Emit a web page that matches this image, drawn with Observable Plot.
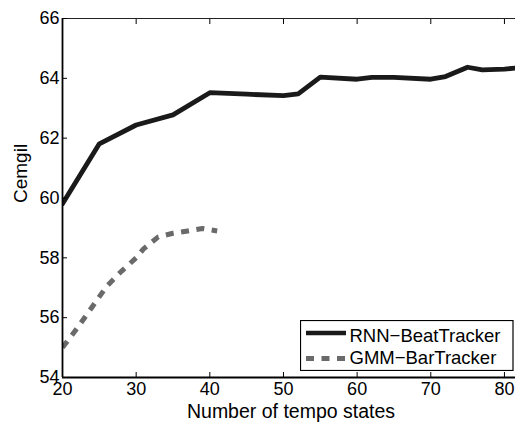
<!DOCTYPE html>
<html>
<head>
<meta charset="utf-8">
<script src="https://cdn.jsdelivr.net/npm/d3@7"></script>
<script src="https://cdn.jsdelivr.net/npm/@observablehq/plot@0.6"></script>
<style>
  html, body { margin: 0; padding: 0; background: white; }
  #wrap { position: relative; width: 515px; height: 423px; }
  #legend { position: absolute; left: 300px; top: 320px; }
</style>
</head>
<body>
<div id="wrap"></div>
<script>
// ---- data ----
const rnnStates = [20, 25, 30, 35, 40, 45, 50, 52, 55, 60, 62, 65, 70, 72, 75, 77, 80, 82];
const rnnCemgil = [59.81, 61.81, 62.44, 62.78, 63.52, 63.47, 63.42, 63.48, 64.04, 63.97, 64.03, 64.03, 63.97, 64.06, 64.37, 64.28, 64.31, 64.35];
const gmmStates = [20, 22, 24, 26, 28, 30, 31, 33, 35, 37, 39, 41];
const gmmCemgil = [55.0, 55.65, 56.35, 57.05, 57.55, 58.0, 58.3, 58.7, 58.82, 58.9, 58.98, 58.9];
const xTicks = [20, 30, 40, 50, 60, 70, 80];
const yTicks = [54, 56, 58, 60, 62, 64, 66];
const seriesNames = ["RNN\u2212BeatTracker", "GMM\u2212BarTracker"];
const xLabel = "Number of tempo states";
const yLabel = "Cemgil";

const rnn = rnnStates.map((x, i) => ({x, y: rnnCemgil[i]}));
const gmm = gmmStates.map((x, i) => ({x, y: gmmCemgil[i]}));

const rnnColor = "#1a1a1a";
const gmmColor = "#6a6a6a";
const font = "'Liberation Sans', Arial, Helvetica, sans-serif";

const chart = Plot.plot({
  width: 515,
  height: 423,
  marginLeft: 62,
  marginRight: 0,
  marginTop: 18,
  marginBottom: 46,
  style: {fontFamily: font, fontSize: "18px", color: "black", background: "white"},
  x: {domain: [20, 81.5]},
  y: {domain: [54, 66]},
  marks: [
    Plot.line(gmm, {x: "x", y: "y", stroke: gmmColor, strokeWidth: 5, strokeDasharray: "8,7.5", strokeLinecap: "butt", clip: true}),
    Plot.line(rnn, {x: "x", y: "y", stroke: rnnColor, strokeWidth: 4.8, strokeLinejoin: "round", clip: true}),
    Plot.ruleY([yTicks[0]], {stroke: "black", strokeWidth: 1.8}),
    Plot.ruleY([yTicks[yTicks.length - 1]], {stroke: "#222", strokeWidth: 1.2}),
    Plot.ruleX([xTicks[0]], {stroke: "black", strokeWidth: 1.8}),
    Plot.axisX({ticks: xTicks, tickSize: -5, tickPadding: 10, label: null, fontSize: 18}),
    Plot.axisX({anchor: "top", ticks: xTicks, tickSize: -5, tickFormat: () => "", label: null}),
    Plot.axisY({ticks: yTicks, tickSize: -5, tickPadding: 8, label: null, fontSize: 18}),
    Plot.text([xLabel], {frameAnchor: "bottom", dx: 2, dy: 40, fontSize: 19.5, fill: "black"}),
    Plot.text([yLabel], {frameAnchor: "left", rotate: -90, dx: -42, dy: 5, fontSize: 19, fill: "black"})
  ]
});

const wrap = document.getElementById("wrap");
wrap.appendChild(chart);

// legend (SVG overlay inside plot area)
const ns = "http://www.w3.org/2000/svg";
const lg = document.createElementNS(ns, "svg");
lg.setAttribute("id", "legend");
lg.setAttribute("width", 214);
lg.setAttribute("height", 51);
lg.style.fontFamily = font;
const rect = document.createElementNS(ns, "rect");
rect.setAttribute("x", 0.5); rect.setAttribute("y", 0.5);
rect.setAttribute("width", 212.5); rect.setAttribute("height", 50);
rect.setAttribute("fill", "white"); rect.setAttribute("stroke", "black"); rect.setAttribute("stroke-width", 1.2);
lg.appendChild(rect);
const rows = [
  {name: seriesNames[0], color: rnnColor, dash: null, width: 4.5, ly: 13, ty: 21.7},
  {name: seriesNames[1], color: gmmColor, dash: "8,7.5", width: 5, ly: 38.5, ty: 44.3}
];
rows.forEach(r => {
  const l = document.createElementNS(ns, "line");
  l.setAttribute("x1", 6); l.setAttribute("x2", 46);
  l.setAttribute("y1", r.ly); l.setAttribute("y2", r.ly);
  l.setAttribute("stroke", r.color); l.setAttribute("stroke-width", r.width);
  if (r.dash) l.setAttribute("stroke-dasharray", r.dash);
  lg.appendChild(l);
  const t = document.createElementNS(ns, "text");
  t.setAttribute("x", 49.5); t.setAttribute("y", r.ty);
  t.setAttribute("font-size", 18.5);
  t.setAttribute("fill", "black");
  t.textContent = r.name;
  lg.appendChild(t);
});
wrap.appendChild(lg);
</script>
</body>
</html>
